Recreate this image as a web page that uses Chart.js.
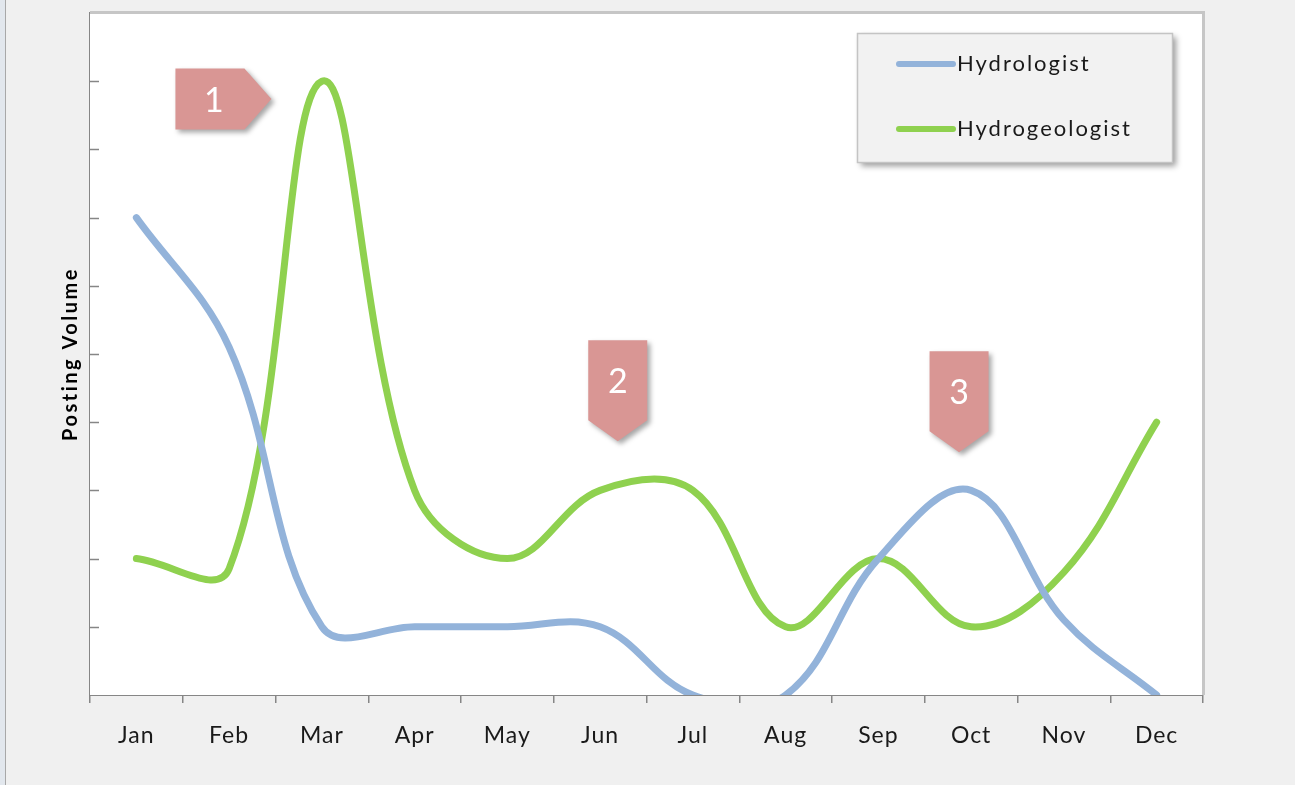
<!DOCTYPE html>
<html>
<head>
<meta charset="utf-8">
<script src="https://cdn.jsdelivr.net/npm/chart.js@4"></script>
<style>
  html, body { margin: 0; padding: 0; background: #f0f0f0; overflow: hidden; }
  #edge { position: absolute; left: 0; top: 0; width: 5px; height: 785px; background: #e2e7ed; border-right: 1px solid #a8a8a8; }
  #wrap { position: absolute; left: 0; top: 0; width: 1295px; height: 785px; }
</style>
</head>
<body>
<div id="edge"></div>
<div id="wrap"><canvas id="chart"></canvas></div>
<script>
// Chart data
const months = ['Jan', 'Feb', 'Mar', 'Apr', 'May', 'Jun', 'Jul', 'Aug', 'Sep', 'Oct', 'Nov', 'Dec'];
const hydrologist = [7, 5.1, 1, 1, 1, 1, 0, 0, 2, 3, 1.1, 0];
const hydrogeologist = [2, 1.85, 9, 3, 2, 3, 3, 1, 2, 1, 1.8, 4];
const yTitle = 'Posting Volume';
const yMin = 0;
const yMax = 10;
const yStep = 1;

// Numbered callouts: tip anchored at (month index, value)
const calloutLabels = ['1', '2', '3'];
const calloutIndex = [1.456, 5.19, 8.87];
const calloutValue = [8.74, 3.72, 3.56];
const calloutDir = ['right', 'down', 'down'];

const axisGray = '#868686';
const font = "Lato, 'Open Sans', sans-serif";

const framePlugin = {
  id: 'frame',
  beforeDraw(chart) {
    // a little letter spacing for the month labels
    chart.ctx.letterSpacing = '1px';
  },
  beforeDatasetsDraw(chart) {
    const { ctx, chartArea: a } = chart;
    ctx.save();
    ctx.fillStyle = '#ffffff';
    ctx.fillRect(a.left, a.top, a.right - a.left, a.bottom - a.top);
    ctx.restore();
  },
  afterDatasetsDraw(chart) {
    const { ctx, chartArea: a, scales } = chart;
    ctx.save();
    // top and right frame
    ctx.strokeStyle = '#c6c6c6';
    ctx.lineWidth = 3;
    ctx.beginPath();
    ctx.moveTo(a.left, a.top - 0.5);
    ctx.lineTo(a.right + 0.5, a.top - 0.5);
    ctx.lineTo(a.right + 0.5, a.bottom);
    ctx.stroke();

    // y tick marks point into the plot
    ctx.strokeStyle = axisGray;
    ctx.lineWidth = 1.5;
    for (let v = yMin + yStep; v < yMax; v += yStep) {
      const y = Math.round(scales.y.getPixelForValue(v)) + 0.5;
      ctx.beginPath();
      ctx.moveTo(a.left, y);
      ctx.lineTo(a.left + 9, y);
      ctx.stroke();
    }

    // y title
    ctx.save();
    ctx.translate(71, (a.top + a.bottom) / 2);
    ctx.rotate(-Math.PI / 2);
    ctx.letterSpacing = '2.5px';
    ctx.fillStyle = '#000000';
    ctx.font = 'bold 20px ' + font;
    ctx.textAlign = 'center';
    ctx.textBaseline = 'middle';
    ctx.fillText(yTitle, 0, 0);
    ctx.restore();

    // callouts
    calloutLabels.forEach((label, i) => {
      const tx = scales.x.getPixelForValue(calloutIndex[i]);
      const ty = scales.y.getPixelForValue(calloutValue[i]);
      ctx.save();
      ctx.shadowColor = 'rgba(0,0,0,0.35)';
      ctx.shadowBlur = 5;
      ctx.shadowOffsetX = 3;
      ctx.shadowOffsetY = 3;
      ctx.fillStyle = '#d99694';
      ctx.beginPath();
      let cx, cy;
      if (calloutDir[i] === 'right') {
        const w = 69, h = 61, p = 27;
        ctx.moveTo(tx, ty);
        ctx.lineTo(tx - p, ty - h / 2);
        ctx.lineTo(tx - p - w, ty - h / 2);
        ctx.lineTo(tx - p - w, ty + h / 2);
        ctx.lineTo(tx - p, ty + h / 2);
        cx = tx - p - w / 2 + 4; cy = ty + 2;
      } else {
        const w = 59, h = 80, p = 21;
        ctx.moveTo(tx, ty);
        ctx.lineTo(tx + w / 2, ty - p);
        ctx.lineTo(tx + w / 2, ty - p - h);
        ctx.lineTo(tx - w / 2, ty - p - h);
        ctx.lineTo(tx - w / 2, ty - p);
        cx = tx; cy = ty - p - h / 2 + 2;
      }
      ctx.closePath();
      ctx.fill();
      ctx.restore();
      ctx.letterSpacing = '0px';
      ctx.fillStyle = '#ffffff';
      ctx.font = '34px ' + font;
      ctx.textAlign = 'center';
      ctx.textBaseline = 'middle';
      ctx.fillText(label, cx, cy);
    });

    // legend box
    const lx = 857, ly = 33, lw = 315, lh = 129;
    ctx.save();
    ctx.shadowColor = 'rgba(0,0,0,0.4)';
    ctx.shadowBlur = 6;
    ctx.shadowOffsetX = 4;
    ctx.shadowOffsetY = 4;
    ctx.fillStyle = '#f2f2f2';
    ctx.fillRect(lx, ly, lw, lh);
    ctx.restore();
    ctx.strokeStyle = '#c4c4c4';
    ctx.lineWidth = 1.5;
    ctx.strokeRect(lx + 0.5, ly + 0.5, lw, lh);
    chart.data.datasets.forEach((ds, i) => {
      const y = 64 + i * 65;
      ctx.strokeStyle = ds.borderColor;
      ctx.lineWidth = 6;
      ctx.lineCap = 'round';
      ctx.beginPath();
      ctx.moveTo(899, y);
      ctx.lineTo(953, y);
      ctx.stroke();
      ctx.letterSpacing = '2px';
      ctx.fillStyle = '#1a1a1a';
      ctx.font = '22px ' + font;
      ctx.textAlign = 'left';
      ctx.textBaseline = 'middle';
      ctx.fillText(ds.label, 957, y);
    });
    ctx.restore();
  }
};

new Chart(document.getElementById('chart'), {
  type: 'line',
  data: {
    labels: months,
    datasets: [
      {
        label: 'Hydrologist',
        data: hydrologist,
        borderColor: '#93b3da',
        borderWidth: 7,
        borderCapStyle: 'round',
        pointRadius: 0,
        tension: 0.38,
        clip: 0
      },
      {
        label: 'Hydrogeologist',
        data: hydrogeologist,
        borderColor: '#8fd14f',
        borderWidth: 7,
        borderCapStyle: 'round',
        pointRadius: 0,
        tension: 0.38,
        clip: 0
      }
    ]
  },
  options: {
    responsive: true,
    maintainAspectRatio: false,
    animation: false,
    elements: { line: { capBezierPoints: false } },
    layout: { padding: { top: 13, right: 92, left: 0, bottom: 0 } },
    plugins: {
      legend: { display: false },
      tooltip: { enabled: false }
    },
    scales: {
      x: {
        offset: true,
        grid: { display: true, offset: true, drawOnChartArea: false, drawTicks: true, tickLength: 8, color: axisGray, lineWidth: 1.5 },
        border: { display: true, color: axisGray, width: 2 },
        ticks: { color: '#1a1a1a', font: { family: font, size: 23 }, padding: 19, maxRotation: 0 },
        afterFit(scale) { scale.height = 90; }
      },
      y: {
        min: yMin,
        max: yMax,
        ticks: { display: false, stepSize: yStep },
        grid: { display: false },
        border: { display: true, color: axisGray, width: 2 },
        afterFit(scale) { scale.width = 90; }
      }
    }
  },
  plugins: [framePlugin]
});
</script>
</body>
</html>
